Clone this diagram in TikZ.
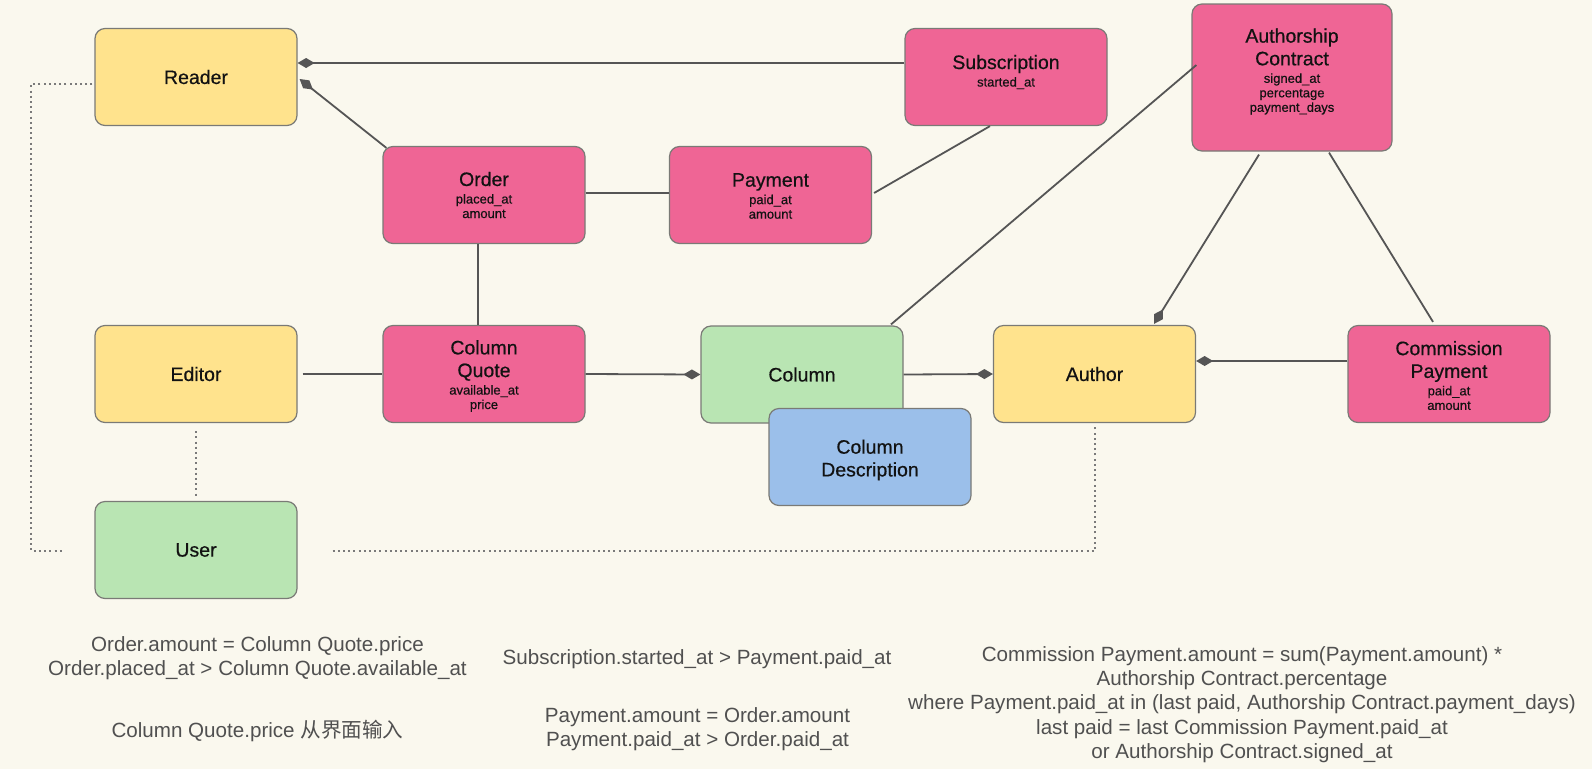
\documentclass[tikz,border=0pt]{standalone}
\usepackage{fontspec}
\setmainfont{Liberation Sans}
\newfontfamily\boxfont[FakeBold=0.5]{Liberation Sans}
\newfontfamily\cjk{Noto Sans CJK SC}
\usetikzlibrary{arrows.meta}
\definecolor{bgc}{HTML}{FAF8EE}
\definecolor{yel}{HTML}{FFE38D}
\definecolor{pnk}{HTML}{EF6595}
\definecolor{grn}{HTML}{B9E5B3}
\definecolor{blu}{HTML}{9BBFEA}
\definecolor{bord}{HTML}{7A7A76}
\definecolor{linec}{HTML}{555555}
\definecolor{dotc}{HTML}{7A7A7A}
\definecolor{notec}{HTML}{505050}
\newcommand\ttl[1]{{\boxfont\fontsize{19.5}{22.7}\selectfont #1\par}}
\newcommand\att[1]{{\boxfont\fontsize{13}{14.5}\selectfont #1\par}}
\tikzset{
  box/.style={draw=bord, line width=1.2pt, rounded corners=10pt,
    minimum width=202pt, minimum height=97pt, text width=190pt,
    align=center, inner sep=0pt, text=black!93},
  conn/.style={draw=linec, line width=1.8pt},
  dia/.style={conn, -{Diamond[length=17pt,width=10pt]}},
  dotl/.style={draw=dotc, line width=2pt, dash pattern=on 2pt off 3.2pt},
  note/.style={text=notec, align=center, font=\fontsize{20.6}{24.2}\selectfont, inner sep=0pt}
}
\begin{document}
\begin{tikzpicture}[x=1pt,y=-1pt]
\useasboundingbox (0,0) rectangle (1592,769);
\fill[bgc] (0,0) rectangle (1592,769);

% boxes
\node[box, fill=yel] (reader) at (196,77) {\ttl{Reader}};
\node[box, fill=yel] (editor) at (196,374) {\ttl{Editor}};
\node[box, fill=grn] (user) at (196,550) {\ttl{User}};
\node[box, fill=pnk] (order) at (484,195) {\ttl{Order}\vspace{3pt}\att{placed\_at}\att{amount}};
\node[box, fill=pnk] (payment) at (770.5,195) {\ttl{Payment}\vspace{3pt}\att{paid\_at}\att{amount}\vspace{-2pt}};
\node[box, fill=pnk] (sub) at (1006,77) {\ttl{Subscription}\vspace{3pt}\att{started\_at}\vspace{10pt}};
\node[box, fill=pnk, minimum width=200pt, minimum height=147pt] (ac) at (1292,77.5) {};
\node[align=center, text width=190pt, inner sep=0pt, text=black!93] (actext) at ([yshift=6pt]ac.center)
  {\ttl{Authorship}\ttl{Contract}\vspace{3pt}\att{signed\_at}\att{percentage}\att{payment\_days}};
\node[box, fill=pnk] (cq) at (484,374) {\ttl{Column}\ttl{Quote}\vspace{3pt}\att{available\_at}\att{price}\vspace{-4pt}};
\node[box, fill=grn] (col) at (802,374.5) {\ttl{Column}};
\node[box, fill=blu] (cd) at (870,457) {\ttl{Column}\ttl{Description}\vspace{-6pt}};
\node[box, fill=yel] (author) at (1094.5,374) {\ttl{Author}};
\node[box, fill=pnk] (cp) at (1449,374) {\ttl{Commission}\ttl{Payment}\vspace{3pt}\att{paid\_at}\att{amount}\vspace{-3pt}};

% connectors
\draw[dia] ([yshift=14pt]sub.west) -- ([yshift=14pt]reader.east);
\draw[dia] ([shift={(4pt,-2pt)}]order.north west) -- ([shift={(2pt,-2pt)}]reader.east);
\draw[conn] ([yshift=2pt]order.east) -- ([yshift=2pt]payment.west);
\draw[conn] ([shift={(2pt,2pt)}]payment.east) -- ([shift={(-16pt,0pt)}]sub.south);
\draw[conn] ([xshift=-6pt]order.south) -- ([xshift=-6pt]cq.north);
\draw[conn] ([xshift=5pt]editor.east) -- (cq.west);
\draw[dia] (cq.east) -- (col.west);
\draw[dia] (col.east) -- (author.west);
\draw[dia] ([yshift=13pt]cp.west) -- ([yshift=13pt]author.east);
\draw[dia] ([shift={(-33pt,-3pt)}]ac.south) -- ([shift={(59.5pt,1pt)}]author.north);
\draw[conn] ([shift={(37pt,-1pt)}]ac.south) -- ([shift={(-16pt,3pt)}]cp.north);
\draw[conn] ([shift={(89pt,1pt)}]col.north) -- ([shift={(5pt,12.5pt)}]ac.west);

% dotted
\draw[dotl] ([shift={(-2pt,-7pt)}]reader.west) -| ([shift={(-63pt,-1pt)}]user.west) -- ([shift={(-30pt,-1pt)}]user.west);
\draw[dotl] ([yshift=-8pt]editor.south) -- ([yshift=5pt]user.north);
\draw[dotl] ([shift={(35pt,-1pt)}]user.east) -| ([shift={(0.5pt,-4pt)}]author.south);

% notes
\node[note] (n1) at (257.5,658) {Order.amount = Column Quote.price\\Order.placed\_at > Column Quote.available\_at};
\node[note] (n2) at (257.5,731) {Column Quote.price {\cjk 从界面输入}};
\node[note] (n3) at (697,659) {Subscription.started\_at > Payment.paid\_at};
\node[note] (n4) at (697.5,729) {Payment.amount = Order.amount\\Payment.paid\_at > Order.paid\_at};
\node[note] (n5) at (1242,704.5) {Commission Payment.amount = sum(Payment.amount) *\\Authorship Contract.percentage\\where Payment.paid\_at in (last paid, Authorship Contract.payment\_days)\\last paid = last Commission Payment.paid\_at\\or Authorship Contract.signed\_at};
\end{tikzpicture}
\end{document}
